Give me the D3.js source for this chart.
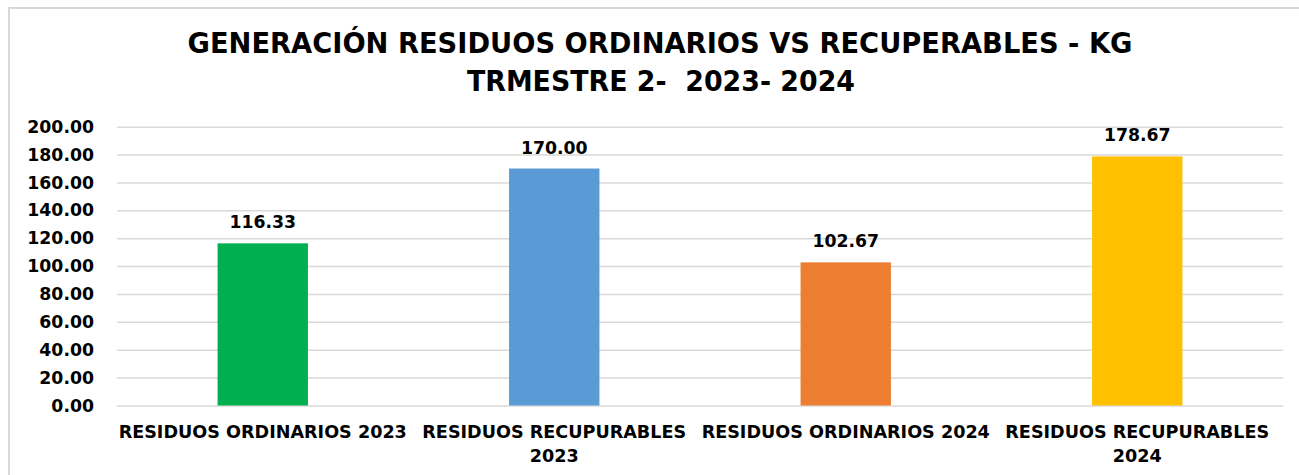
<!DOCTYPE html>
<html><head><meta charset="utf-8">
<script src="https://cdn.jsdelivr.net/npm/d3@7"></script>
<style>
html,body{margin:0;padding:0;background:#fff;}
svg{display:block;}
text{font-family:"DejaVu Sans",Verdana,sans-serif;font-weight:bold;fill:#000;}
</style></head>
<body>
<svg id="chart" width="1299" height="475"></svg>
<script>
const categories = ["RESIDUOS ORDINARIOS 2023","RESIDUOS RECUPURABLES 2023","RESIDUOS ORDINARIOS 2024","RESIDUOS RECUPURABLES 2024"];
const values = [116.33, 170.00, 102.67, 178.67];
const barColors = ["#00B050","#5B9BD5","#ED7D31","#FFC000"];
const yTicks = [0,20,40,60,80,100,120,140,160,180,200];
const titleLines = ["GENERACIÓN RESIDUOS ORDINARIOS VS RECUPERABLES - KG","TRMESTRE 2-  2023- 2024"];

const svg = d3.select("#chart");
const W = 1299, H = 475;
const plot = {left:117, right:1283, top:126.7, bottom:405.5};

svg.append("rect").attr("x",0).attr("y",0).attr("width",W).attr("height",H).attr("fill","#fff");
svg.append("rect").attr("x",9).attr("y",8).attr("width",1310).attr("height",500)
  .attr("fill","none").attr("stroke","#d9d9d9").attr("stroke-width",2);

// title
const titleCfg = [{y:53.3, cx:660, w:945},{y:91, cx:661, w:388}];
titleLines.forEach((t,i)=>{
  const el = svg.append("text").attr("x",titleCfg[i].cx).attr("y",titleCfg[i].y)
    .attr("text-anchor","middle").style("font-size","27.5px").style("white-space","pre")
    .attr("xml:space","preserve").text(t);
  el.attr("textLength",titleCfg[i].w).attr("lengthAdjust","spacingAndGlyphs");
});

const x = d3.scaleBand().domain(categories).range([plot.left, plot.right]).paddingInner(0.69).paddingOuter(0.345);
const y = d3.scaleLinear().domain([0,200]).range([plot.bottom, plot.top]);

// grid
const grid = svg.append("g").attr("transform",`translate(${plot.left},0)`)
  .call(d3.axisLeft(y).tickValues(yTicks).tickSize(-(plot.right-plot.left)).tickFormat(""));
grid.select(".domain").remove();
grid.selectAll(".tick line").attr("stroke","#d9d9d9").attr("stroke-width",1.5);

// y axis labels
const yAx = svg.append("g").attr("transform",`translate(${plot.left},0)`)
  .call(d3.axisLeft(y).tickValues(yTicks).tickSize(0).tickPadding(23).tickFormat(d3.format(".2f")));
yAx.select(".domain").remove();
yAx.selectAll("text").style("font-size","17.3px").style("font-family","DejaVu Sans").style("font-weight","bold").attr("fill","#000");

// bars
svg.append("g").selectAll("rect").data(values).join("rect")
  .attr("x",(d,i)=>x(categories[i])).attr("width",x.bandwidth())
  .attr("y",d=>y(d)).attr("height",d=>y(0)-y(d))
  .attr("fill",(d,i)=>barColors[i]);

// value labels
svg.append("g").selectAll("text").data(values).join("text")
  .attr("x",(d,i)=>x(categories[i])+x.bandwidth()/2)
  .attr("y",d=>y(d)-15).attr("text-anchor","middle")
  .style("font-size","17.3px").text(d=>d3.format(".2f")(d));

// x axis labels with wrapping
const xAx = svg.append("g");
categories.forEach((c,i)=>{
  const cx = x(c)+x.bandwidth()/2;
  const words = c.split(" ");
  const lines = [];
  let cur = [];
  const probe = xAx.append("text").style("font-size","17.6px");
  words.forEach(w=>{
    const test = cur.concat([w]).join(" ");
    probe.text(test);
    if (probe.node().getComputedTextLength() > 300 && cur.length){ lines.push(cur.join(" ")); cur=[w]; }
    else cur.push(w);
  });
  lines.push(cur.join(" "));
  probe.remove();
  const t = xAx.append("text").attr("text-anchor","middle").style("font-size","17.6px");
  lines.forEach((l,j)=>{
    t.append("tspan").attr("x",cx).attr("y",437.5+j*24.5).text(l);
  });
});
</script>
</body></html>
